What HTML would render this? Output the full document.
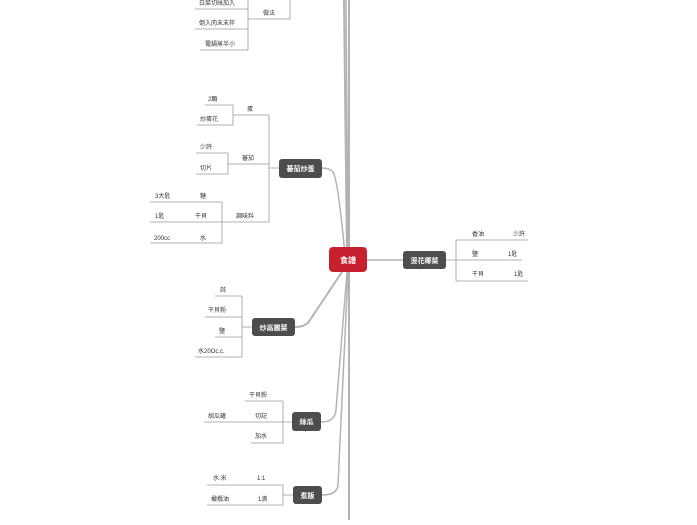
<!DOCTYPE html>
<html><head><meta charset="utf-8"><style>
body{margin:0;background:#fff;width:697px;height:520px;overflow:hidden}
svg text{font-family:"Liberation Sans","Noto Sans CJK TC",sans-serif;font-size:6px;fill:#333}
.n{font-size:8px;fill:#fff;font-weight:bold}
</style></head><body>
<svg width="697" height="520" viewBox="0 0 697 520" xmlns="http://www.w3.org/2000/svg">
<g stroke="#b3b3b3" fill="none">
<line x1="349" y1="0" x2="349" y2="520" stroke-width="2"/>
<path d="M347 255 L344 0" stroke-width="2"/>
<path d="M348 255 L346 0" stroke-width="1.5"/>
<path d="M345 255 Q338 180 333 172 Q330 168 322 168" stroke-width="1.5"/>
<path d="M342 272 L310 320 Q306 327 295 327" stroke-width="2"/>
<path d="M347 272 L336 410 Q335 422 321 422" stroke-width="1.5"/>
<path d="M348 272 L338 485 Q337 495 322 495" stroke-width="1.5"/>
<line x1="367" y1="260" x2="403" y2="260" stroke-width="1.5"/>
</g>
<g stroke="#999" stroke-width="0.8" fill="none">
<path d="M195 9H248M195 29H248M200 50H248M248 0V50M248 19H290V0"/>
<path d="M205 105H233M197 125H233M233 105V125M233 115H269"/>
<path d="M196 153H228M196 174H228M228 153V174M228 164H269"/>
<path d="M150 202H222M150 222H222M150 243H222M222 202V243M222 222H269"/>
<path d="M269 115V222M269 168H279"/>
<path d="M215 296H242M205 317H242M215 337H242M195 357H242M242 296V357M242 327H252"/>
<path d="M245 401H283M204 422H283M251 443H283M283 401V443M283 422H292"/>
<path d="M207 485H283M207 505H283M283 485V505M283 495H293"/>
<path d="M446 260H456M456 240V281M456 240H528M456 260H522M456 281H528"/>
</g>
<g>
<text x="199" y="5">白菜切絲加入</text>
<text x="199" y="25">倒入肉末末拌</text>
<text x="205" y="46">電鍋蒸半小</text>
<text x="263" y="15">做法</text>
<text x="208" y="101">2顆</text>
<text x="200" y="121">炒蛋花</text>
<text x="247" y="111">蛋</text>
<text x="200" y="149">少許</text>
<text x="200" y="170">切片</text>
<text x="242" y="160">蕃茄</text>
<text x="155" y="198">3大匙</text><text x="200" y="198">糖</text>
<text x="155" y="218">1匙</text><text x="195" y="218">干貝</text>
<text x="154" y="240">200cc</text><text x="200" y="240">水</text>
<text x="236" y="218">調味料</text>
<text x="220" y="292">蒜</text>
<text x="208" y="312">干貝粉</text>
<text x="219" y="333">鹽</text>
<text x="198" y="353">水20Oc.c.</text>
<text x="249" y="397">干貝粉</text>
<text x="208" y="418">胡瓜罐</text><text x="255" y="418">切記</text>
<text x="255" y="438">加水</text>
<text x="213" y="480">水:米</text><text x="257" y="480">1:1</text>
<text x="211" y="501">橄欖油</text><text x="258" y="501">1滴</text>
<text x="472" y="236">香油</text><text x="513" y="236">少許</text>
<text x="472" y="256">鹽</text><text x="508" y="256">1匙</text>
<text x="472" y="276">干貝</text><text x="514" y="276">1匙</text>
</g>
<rect x="329" y="247" width="38" height="25" rx="4" fill="#c8202f"/>
<text class="n" x="348" y="263" text-anchor="middle">食譜</text>
<g fill="#4d4d4d">
<rect x="403" y="251" width="43" height="18" rx="3"/>
<rect x="279" y="159" width="43" height="19" rx="3"/>
<rect x="252" y="318" width="43" height="18" rx="3"/>
<rect x="292" y="412" width="29" height="19" rx="3"/>
<rect x="293" y="486" width="29" height="18" rx="3"/>
</g>
<g class="n" style="font-size:7px">
<text class="n" style="font-size:7px" x="424.5" y="263" text-anchor="middle">燙花椰菜</text>
<text class="n" style="font-size:7px" x="300.5" y="171" text-anchor="middle">蕃茄炒蛋</text>
<text class="n" style="font-size:7px" x="273.5" y="330" text-anchor="middle">炒高麗菜</text>
<text class="n" style="font-size:7px" x="306.5" y="424" text-anchor="middle">絲瓜</text>
<text class="n" style="font-size:7px" x="307.5" y="498" text-anchor="middle">煮飯</text>
</g>
</svg>
</body></html>
